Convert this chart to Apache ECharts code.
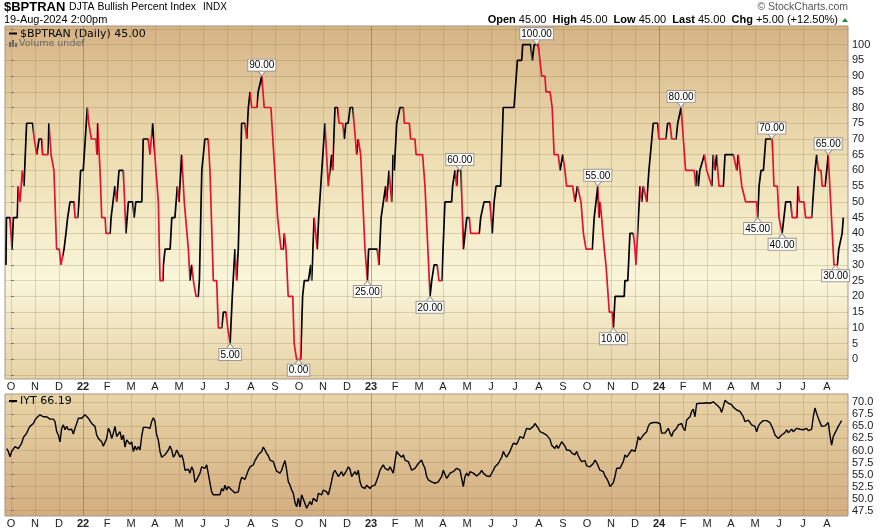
<!DOCTYPE html>
<html>
<head>
<meta charset="utf-8">
<script src="https://cdn.jsdelivr.net/npm/echarts@6/dist/echarts.min.js"></script>
<style>
html,body{margin:0;padding:0;background:#fff;}
#chart{width:881px;height:532px;}
</style>
</head>
<body>
<div id="chart"></div>
<script>
// x unit: months since 1 Oct 2021
// $BPTRAN turning points (month, value)
const bpiMonth = [
  -0.21,-0.19,-0.04,0.04,0.10,0.26,0.30,0.38,0.45,0.47,
  0.54,0.65,0.90,0.97,1.07,1.17,1.28,1.32,1.53,1.58,
  1.67,1.72,1.79,1.83,1.90,2.01,2.08,2.15,2.21,2.29,
  2.36,2.46,2.63,2.67,2.78,2.83,2.90,3.01,3.18,3.24,
  3.32,3.35,3.54,3.58,3.61,3.71,3.78,3.92,3.96,4.13,
  4.17,4.33,4.40,4.50,4.68,4.79,4.89,5.07,5.13,5.20,
  5.45,5.51,5.72,5.79,5.86,5.90,5.96,6.04,6.14,6.18,
  6.21,6.33,6.35,6.42,6.63,6.70,6.83,6.93,7.00,7.11,
  7.22,7.39,7.46,7.53,7.60,7.71,7.80,7.85,7.95,8.08,
  8.22,8.29,8.43,8.57,8.64,8.78,8.85,8.96,9.03,9.13,
  9.22,9.33,9.40,9.47,9.61,9.75,9.82,9.89,9.96,10.03,
  10.24,10.30,10.45,10.55,10.83,11.11,11.18,11.25,11.35,11.39,
  11.46,11.55,11.74,11.80,11.90,12.07,12.15,12.22,12.39,12.49,
  12.53,12.63,12.76,12.82,13.08,13.22,13.29,13.36,13.40,13.50,
  13.61,13.67,13.82,13.89,13.95,14.05,14.13,14.24,14.35,14.40,
  14.47,14.57,14.65,14.75,14.85,14.90,15.26,15.33,15.42,15.50,
  15.61,15.65,15.75,15.86,15.92,15.97,16.07,16.21,16.35,16.39,
  16.60,16.65,16.83,16.88,17.15,17.25,17.46,17.53,17.63,17.76,
  17.83,17.95,18.08,18.36,18.40,18.50,18.57,18.61,18.75,18.85,
  18.99,19.10,19.15,19.51,19.57,19.71,19.96,20.05,20.13,20.21,
  20.40,20.51,20.96,21.10,21.28,21.32,21.65,21.72,21.80,21.97,
  22.04,22.11,22.25,22.29,22.46,22.55,22.63,22.80,22.88,22.99,
  23.08,23.15,23.40,23.50,23.60,23.75,23.85,23.96,24.22,24.30,
  24.45,24.50,24.54,24.61,24.72,24.79,24.93,25.05,25.10,25.17,
  25.55,25.58,25.70,25.79,25.93,26.00,26.04,26.11,26.21,26.28,
  26.35,26.49,26.58,26.76,26.95,27.00,27.28,27.36,27.46,27.53,
  27.71,27.78,27.92,28.11,28.47,28.53,28.58,28.64,28.70,28.89,
  28.99,29.20,29.26,29.33,29.40,29.50,29.68,29.75,30.10,30.24,
  30.30,30.45,30.61,31.07,31.11,31.17,31.25,31.35,31.45,31.72,
  31.79,31.93,32.00,32.13,32.28,32.49,32.55,32.74,32.79,32.85,
  33.04,33.11,33.36,33.50,33.57,33.64,33.75,33.80,33.92,33.99,
  34.05,34.29,34.43,34.49,34.57,34.63,34.68
];
const bpiValue = [
  30,45,45,35,45,45,55,50,50,60,
  55,75,75,70,65,70,70,65,65,75,
  65,65,60,60,35,35,30,30,35,40,
  45,50,50,45,45,50,60,60,80,75,
  75,70,70,65,75,60,45,45,40,40,
  45,55,50,60,60,40,50,50,45,50,
  50,70,70,65,65,75,75,60,50,35,
  25,25,30,35,35,45,45,55,50,65,
  50,35,25,30,25,20,20,25,60,70,
  70,60,25,25,10,10,15,15,10,5,
  20,35,25,35,75,75,70,80,85,80,
  80,85,90,80,80,45,45,35,35,40,
  35,20,20,5,0,0,20,25,25,30,
  25,45,35,45,75,55,55,65,60,80,
  80,75,75,70,75,75,80,80,70,65,
  70,65,65,35,25,35,35,30,45,45,
  55,50,60,50,65,60,75,80,80,75,
  75,70,70,65,65,55,20,25,30,30,
  25,25,50,50,55,60,55,60,60,35,
  45,45,40,40,45,50,50,40,50,55,
  55,80,80,95,95,100,100,95,100,100,
  95,90,90,85,85,80,65,65,60,65,
  60,55,55,50,55,50,40,35,35,45,
  55,45,50,45,35,30,15,15,10,20,
  20,25,25,40,40,35,30,30,55,50,
  55,50,60,75,75,70,70,75,75,70,
  70,75,80,60,60,55,60,55,60,65,
  60,55,65,60,65,55,55,65,65,60,
  65,55,50,50,45,55,60,60,70,70,
  55,55,45,40,50,50,45,45,55,50,
  50,45,45,60,65,60,60,55,55,60,
  65,30,30,35,35,40,45
];

// swing callouts
const calloutMonth = [10.45, 9.13, 11.98, 14.85, 17.46, 18.70, 21.90, 24.45, 25.10, 27.92, 31.11, 31.70, 32.13, 34.05, 34.36];
const calloutValue = [90, 5, 0, 25, 20, 60, 100, 55, 10, 80, 45, 70, 40, 65, 30];
const calloutKind = ['high','low','low','low','low','high','high','high','low','high','low','high','low','high','low'];

// IYT closes, one sample every ~1.5 sessions
const iytFirstMonth = -0.18;
const iytMonthsPerSample = 0.06944;
const iytClose = [
  60.4,59.8,58.7,59.8,60.1,60.8,60.7,60.4,60.6,61.5,
  62.7,62.9,63.6,64.4,65.0,65.3,65.6,66.3,66.8,67.0,
  67.4,67.4,67.0,66.7,67.0,66.7,66.5,66.3,66.5,66.0,
  63.9,63.2,61.8,64.6,65.3,64.3,65.0,64.3,63.9,64.4,
  63.4,64.6,65.6,66.7,66.5,66.7,67.0,67.4,67.6,66.7,
  66.3,65.6,65.3,65.0,63.2,62.5,62.2,61.8,60.9,61.1,
  62.5,64.6,63.9,62.5,63.6,65.0,62.9,62.5,63.9,62.2,
  63.2,60.7,62.2,62.5,61.3,61.8,59.8,60.9,60.1,60.8,
  60.1,62.9,64.8,64.4,64.8,65.0,64.6,66.0,66.8,66.0,
  63.2,62.2,59.8,58.6,58.9,59.1,59.5,60.1,60.9,60.1,
  58.6,59.1,60.1,59.4,58.6,59.1,58.0,55.9,55.6,56.1,
  55.3,56.6,55.9,53.4,53.9,53.5,55.3,56.6,56.8,56.3,
  57.0,57.2,53.2,51.4,50.8,50.5,50.8,51.0,50.8,52.1,
  51.6,52.8,51.8,52.5,52.1,51.8,51.9,51.2,50.8,51.4,
  53.3,54.4,54.2,54.0,54.4,55.9,56.6,56.5,57.0,57.9,
  58.2,59.1,59.4,59.8,60.7,60.1,59.4,58.9,58.0,58.4,
  57.7,56.6,55.7,55.4,55.3,55.9,57.0,57.9,55.9,53.5,
  52.8,51.8,51.1,49.2,48.3,50.1,48.3,50.8,50.4,49.0,
  48.0,48.3,49.4,48.7,50.1,49.9,49.4,51.1,51.4,50.8,
  51.8,51.8,51.4,50.8,52.1,52.5,55.3,55.9,56.1,54.6,
  54.9,55.6,54.7,55.3,55.9,56.6,56.1,54.6,54.7,55.6,
  54.9,55.9,53.5,52.5,52.8,52.1,52.8,52.5,52.1,52.6,
  52.3,52.8,53.2,54.7,55.9,56.5,57.0,56.3,56.6,55.9,
  56.6,56.8,55.3,57.7,59.8,59.3,59.4,58.6,59.1,58.0,
  58.2,57.7,57.3,55.9,55.6,56.3,56.6,57.3,57.7,58.0,
  57.0,56.3,54.6,53.9,54.2,53.5,53.9,53.2,52.8,53.5,
  53.5,54.6,55.9,55.6,54.2,54.7,55.3,54.9,55.6,55.9,
  56.3,56.1,55.9,54.2,52.5,54.6,55.3,54.7,55.6,55.8,
  55.3,55.1,54.7,54.6,55.3,55.9,55.3,55.6,54.7,55.1,
  54.6,54.9,55.9,56.6,57.0,57.3,57.7,58.6,59.8,59.1,
  58.6,58.9,59.8,60.7,61.5,61.8,61.3,62.0,62.9,63.2,
  62.5,63.6,64.6,64.3,64.4,64.3,65.0,65.6,65.8,64.6,
  63.9,63.7,63.6,63.2,63.2,62.9,62.3,61.1,60.8,60.4,
  61.1,60.4,60.7,61.8,61.6,60.9,60.1,59.8,60.0,59.5,
  59.8,59.1,59.8,58.9,58.2,57.7,57.3,57.9,56.8,57.0,
  56.6,57.0,57.3,58.0,57.5,57.7,55.9,56.3,55.6,54.7,
  54.2,53.5,52.5,52.3,53.3,54.6,56.3,55.9,56.3,55.9,
  57.7,59.1,58.6,59.1,59.4,60.1,60.2,59.8,61.1,62.9,
  62.2,62.5,63.2,63.6,63.9,65.0,65.6,65.5,65.8,66.0,
  65.8,66.0,65.6,63.6,63.2,63.6,63.9,64.6,63.6,62.9,
  63.9,64.3,64.6,65.3,65.1,65.6,64.6,64.1,66.3,66.5,
  67.0,68.1,68.6,67.0,69.7,69.5,69.8,69.5,69.8,69.7,
  69.9,69.6,69.8,69.5,70.1,69.8,69.5,69.1,68.8,67.9,
  69.1,70.4,70.1,69.8,69.9,69.5,69.0,69.2,68.4,68.6,
  68.1,68.4,67.0,66.0,65.6,66.3,66.7,65.3,65.6,65.0,
  63.9,65.0,65.6,66.0,66.2,66.3,66.2,66.3,65.8,65.5,
  64.3,63.2,62.9,62.5,62.3,63.2,63.6,63.7,64.3,63.7,
  64.1,64.4,63.9,64.3,64.6,64.3,64.4,64.6,64.3,64.4,
  64.6,64.1,63.9,64.4,67.0,68.8,67.7,66.7,67.0,65.0,
  64.6,65.1,65.0,65.8,63.2,61.1,62.9,63.6,64.3,65.0,
  65.6,66.2
];

// labelled range of the BPI scale
const bpiTickMin = 0, bpiTickMax = 100;

const X_MIN = -0.25, X_MAX = 34.875;
const RED = '#e0142f', BLACK = '#000';
const GRID_C = 'rgba(140,110,70,0.25)';
const YEAR_C = 'rgba(120,95,70,0.5)';
const FONT = 'Liberation Sans';

// colour each stretch by the direction of the last move
function directionPieces(xs, ys) {
  const pieces = [];
  let dir = 1, from = X_MIN;
  for (let i = 1; i < xs.length; i++) {
    const d = Math.sign(ys[i] - ys[i - 1]);
    if (d !== 0 && d !== dir) {
      pieces.push({gte: from, lt: xs[i - 1], color: dir > 0 ? BLACK : RED});
      from = xs[i - 1];
      dir = d;
    }
  }
  pieces.push({gte: from, lte: X_MAX, color: dir > 0 ? BLACK : RED});
  return pieces;
}

function monthLabel(v) {
  const k = Math.round(v);
  const mm = (9 + k) % 12;
  const yy = 21 + Math.floor((9 + k) / 12);
  return mm === 0 ? '{yr|' + yy + '}' : 'JFMAMJJASOND'[mm];
}

const splitColors = [];
for (let i = 0; i < 12; i++) splitColors.push(i === 3 ? YEAR_C : GRID_C);

function xAxis(gridIndex) {
  return {
    type: 'value', gridIndex, min: X_MIN, max: X_MAX,
    minInterval: 1, maxInterval: 1, splitNumber: 35,
    axisLine: {show: false}, axisTick: {show: false},
    axisLabel: {
      showMinLabel: false, showMaxLabel: false, formatter: monthLabel,
      fontSize: 11, fontFamily: FONT, color: '#222', margin: 2,
      rich: {yr: {fontWeight: 'bold', fontSize: 11, fontFamily: FONT, color: '#222'}}
    },
    splitLine: {show: true, showMinLine: false, showMaxLine: false, lineStyle: {color: splitColors, width: 1}}
  };
}

function yAxis(gridIndex, min, max, step, fmt) {
  return {
    type: 'value', gridIndex, position: 'right', min, max,
    minInterval: step, maxInterval: step, splitNumber: 25,
    axisLine: {show: false},
    axisTick: {show: true, length: 3, lineStyle: {color: '#777'}},
    axisLabel: {showMinLabel: false, showMaxLabel: false, fontSize: 11, fontFamily: FONT, color: '#222', margin: 4, formatter: fmt},
    splitLine: {show: true, showMinLine: false, showMaxLine: false, lineStyle: {color: GRID_C, width: 1}}
  };
}

const callouts = calloutMonth.map((m, i) => {
  const high = calloutKind[i] === 'high';
  return {
    coord: [m, calloutValue[i]],
    symbol: 'triangle', symbolSize: [9, 6], symbolRotate: high ? 180 : 0,
    symbolOffset: [0, high ? -3 : 3],
    itemStyle: {color: '#fff', borderColor: '#a09890', borderWidth: 1},
    label: {
      show: true, position: high ? 'top' : 'bottom', distance: -1,
      formatter: calloutValue[i].toFixed(2),
      fontSize: 10, fontFamily: FONT, color: '#000', lineHeight: 10,
      backgroundColor: '#fff', borderColor: '#a09890', borderWidth: 1, padding: [1, 1, 0, 1]
    }
  };
});

const topBg = {type: 'linear', x: 0, y: 0, x2: 0, y2: 1, colorStops: [
  {offset: 0, color: '#d6b486'}, {offset: 0.35, color: '#ecdcb0'},
  {offset: 0.72, color: '#faf6da'}, {offset: 1, color: '#e6d2a6'}]};
const botBg = {type: 'linear', x: 0, y: 0, x2: 0, y2: 1, colorStops: [
  {offset: 0, color: '#e8d5a8'}, {offset: 1, color: '#d3ad80'}]};

const chart = echarts.init(document.getElementById('chart'));
chart.setOption({
  animation: false,
  backgroundColor: '#fff',
  grid: [
    {left: 5, top: 26, width: 843, height: 353, show: true, backgroundColor: topBg, borderColor: '#a8958a', borderWidth: 1},
    {left: 5, top: 394, width: 843, height: 122, show: true, backgroundColor: botBg, borderColor: '#a8958a', borderWidth: 1}
  ],
  xAxis: [xAxis(0), xAxis(1)],
  yAxis: [
    yAxis(0, -6.26, 105.9, 5, v => (v < bpiTickMin || v > bpiTickMax) ? '' : String(Math.round(v))),
    yAxis(1, 46.4, 71.72, 2.5, v => v.toFixed(1))
  ],
  visualMap: [{
    type: 'piecewise', show: false, seriesIndex: 0, dimension: 0,
    pieces: directionPieces(bpiMonth, bpiValue), outOfRange: {color: BLACK}
  }],
  series: [
    {
      name: '$BPTRAN', type: 'line', xAxisIndex: 0, yAxisIndex: 0,
      data: bpiMonth.map((m, i) => [m, bpiValue[i]]),
      showSymbol: false, lineStyle: {width: 1.7},
      markPoint: {data: callouts}
    },
    {
      name: 'IYT', type: 'line', xAxisIndex: 1, yAxisIndex: 1,
      data: iytClose.map((v, i) => [iytFirstMonth + i * iytMonthsPerSample, v]),
      showSymbol: false, color: BLACK, lineStyle: {width: 1.4, color: BLACK}
    }
  ],
  graphic: [
    {type: 'text', x: 4, y: 7, style: {text: '$BPTRAN', font: 'bold 13px "Liberation Sans"', fill: '#000', verticalAlign: 'middle'}},
    {type: 'text', x: 69, y: 7, style: {text: 'DJTA Bullish Percent Index', font: '10.5px "Liberation Sans"', fill: '#000', verticalAlign: 'middle'}},
    {type: 'text', x: 203, y: 7.5, style: {text: 'INDX', font: '10px "Liberation Sans"', fill: '#000', verticalAlign: 'middle'}},
    {type: 'text', x: 4, y: 20, style: {text: '19-Aug-2024 2:00pm', font: '11px "Liberation Sans"', fill: '#000', verticalAlign: 'middle'}},
    {type: 'text', x: 848, y: 7, style: {text: '© StockCharts.com', font: '10.5px "Liberation Sans"', fill: '#555', align: 'right', verticalAlign: 'middle'}},
    {type: 'text', x: 838, y: 20, style: {
      text: '{b|Open} 45.00  {b|High} 45.00  {b|Low} 45.00  {b|Last} 45.00  {b|Chg} +5.00 (+12.50%)',
      font: '11px "Liberation Sans"', fill: '#000', align: 'right', verticalAlign: 'middle',
      rich: {b: {fontWeight: 'bold', fontSize: 11, fontFamily: FONT, fill: '#000'}}
    }},
    {type: 'polygon', shape: {points: [[842, 22], [848, 22], [845, 18]]}, style: {fill: '#2a8a3a'}},
    {type: 'rect', shape: {x: 9, y: 32.5, width: 8, height: 2}, style: {fill: '#000'}},
    {type: 'text', x: 20, y: 34, style: {text: '$BPTRAN (Daily) 45.00', font: '11px "DejaVu Sans"', fill: '#000', verticalAlign: 'middle'}},
    {type: 'rect', shape: {x: 9, y: 42, width: 2, height: 5}, style: {fill: '#666'}},
    {type: 'rect', shape: {x: 12, y: 40, width: 2, height: 7}, style: {fill: '#666'}},
    {type: 'rect', shape: {x: 15, y: 43, width: 2, height: 4}, style: {fill: '#666'}},
    {type: 'text', x: 19, y: 44, style: {text: 'Volume undef', font: '9.5px "DejaVu Sans"', fill: '#666', verticalAlign: 'middle'}},
    {type: 'rect', shape: {x: 9, y: 400, width: 8, height: 2}, style: {fill: '#000'}},
    {type: 'text', x: 20, y: 401, style: {text: 'IYT 66.19', font: '11px "DejaVu Sans"', fill: '#000', verticalAlign: 'middle'}}
  ]
});
</script>
</body>
</html>
